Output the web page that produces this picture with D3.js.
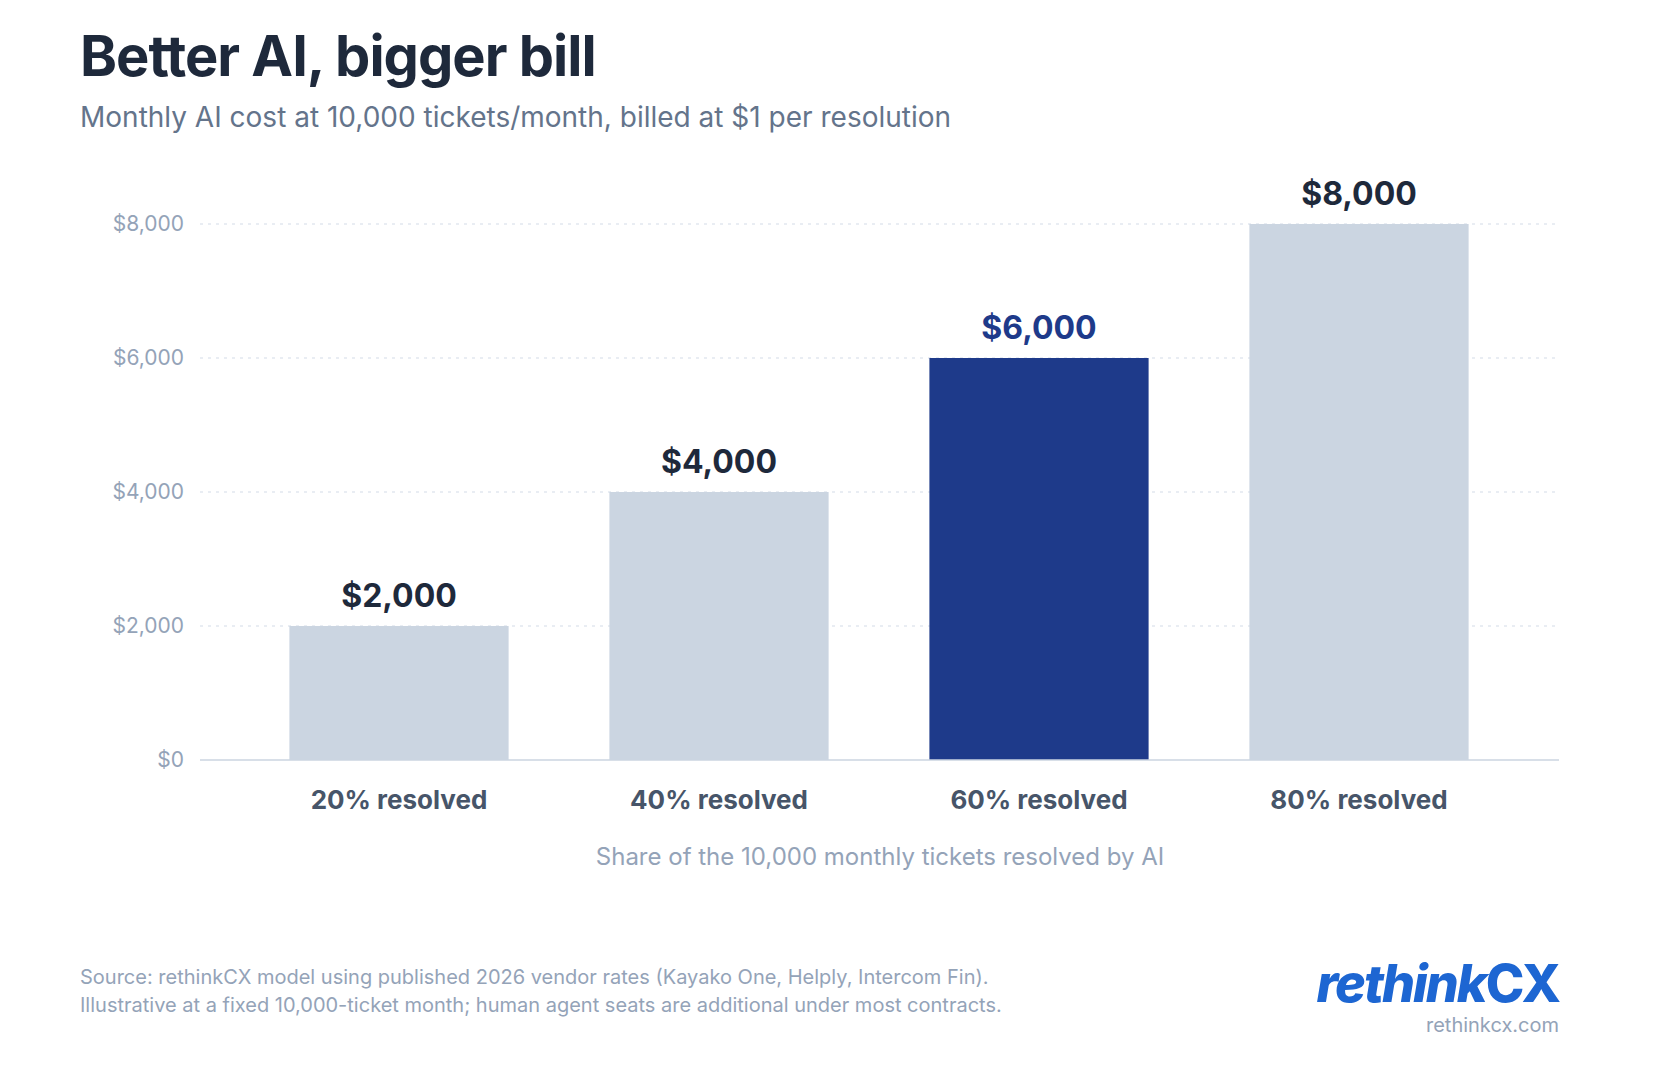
<!DOCTYPE html>
<html><head><meta charset="utf-8">
<script src="https://cdn.jsdelivr.net/npm/d3@7"></script>
<style>body{margin:0;background:#fff}svg{display:block;font-family:Inter,sans-serif}</style>
</head><body><svg id="c" width="1680" height="1080"></svg>
<script>
const categories = ["20% resolved","40% resolved","60% resolved","80% resolved"];
const values = [2000,4000,6000,8000];
const highlight = [false,false,true,false];
const yTicks = [0,2000,4000,6000,8000];

const svg = d3.select("#c");
const x = d3.scaleBand().domain(categories).range([239,1519]).paddingInner(0.315).paddingOuter(0.1575);
const y = d3.scaleLinear().domain([0,8000]).range([760,224]);
const fmt = d => "$" + d3.format(",")(d);

svg.append("text").attr("x",80).attr("y",76).attr("font-size",56).attr("font-weight",700).attr("fill","#1e293b").attr("letter-spacing",-1).text("Better AI, bigger bill");
svg.append("text").attr("x",80).attr("y",127).attr("font-size",28).attr("fill","#64748b").text("Monthly AI cost at 10,000 tickets/month, billed at $1 per resolution");

svg.append("g").selectAll("line").data(yTicks.filter(d=>d>0)).join("line")
 .attr("x1",200).attr("x2",1559).attr("y1",d=>y(d)).attr("y2",d=>y(d))
 .attr("stroke","#e2e8f0").attr("stroke-width",1.5).attr("stroke-dasharray","3,5");
const ya = svg.append("g").attr("transform","translate(200,0)").call(d3.axisLeft(y).tickValues(yTicks).tickFormat(fmt).tickSize(0).tickPadding(16));
ya.select(".domain").remove();
ya.selectAll("text").attr("font-size",21).attr("fill","#94a3b8").attr("font-family","Inter");

svg.append("g").selectAll("rect").data(values).join("rect")
 .attr("x",(d,i)=>x(categories[i])).attr("width",x.bandwidth())
 .attr("y",d=>y(d)).attr("height",d=>y(0)-y(d))
 .attr("fill",(d,i)=>highlight[i]?"#1e3a8a":"#cbd5e1");
svg.append("line").attr("x1",200).attr("x2",1559).attr("y1",y(0)).attr("y2",y(0)).attr("stroke","#cbd5e1").attr("stroke-width",1.5);

svg.append("g").selectAll("text").data(values).join("text")
 .attr("x",(d,i)=>x(categories[i])+x.bandwidth()/2).attr("y",d=>y(d)-19)
 .attr("text-anchor","middle").attr("font-size",32).attr("font-weight",700)
 .attr("fill",(d,i)=>highlight[i]?"#1e3a8a":"#1e293b").text(fmt);

const xa = svg.append("g").attr("transform","translate(0,760)").call(d3.axisBottom(x).tickSize(0).tickPadding(31));
xa.select(".domain").remove();
xa.selectAll("text").attr("font-size",26).attr("font-weight",700).attr("fill","#475569").attr("font-family","Inter");

svg.append("text").attr("x",880).attr("y",865).attr("text-anchor","middle").attr("font-size",24).attr("fill","#94a3b8").text("Share of the 10,000 monthly tickets resolved by AI");

svg.append("text").attr("x",80).attr("y",984).attr("font-size",20).attr("fill","#94a3b8").text("Source: rethinkCX model using published 2026 vendor rates (Kayako One, Helply, Intercom Fin).");
svg.append("text").attr("x",80).attr("y",1012).attr("font-size",20).attr("fill","#94a3b8").text("Illustrative at a fixed 10,000-ticket month; human agent seats are additional under most contracts.");

const logo = svg.append("text").attr("x",1559).attr("y",1002).attr("text-anchor","end").attr("font-size",52).attr("font-weight",800).attr("fill","#1d66d2").attr("letter-spacing",-2);
logo.append("tspan").attr("font-style","italic").text("rethink");
logo.append("tspan").text("CX");
svg.append("text").attr("x",1559).attr("y",1032).attr("text-anchor","end").attr("font-size",20).attr("fill","#94a3b8").text("rethinkcx.com");
</script></body></html>
